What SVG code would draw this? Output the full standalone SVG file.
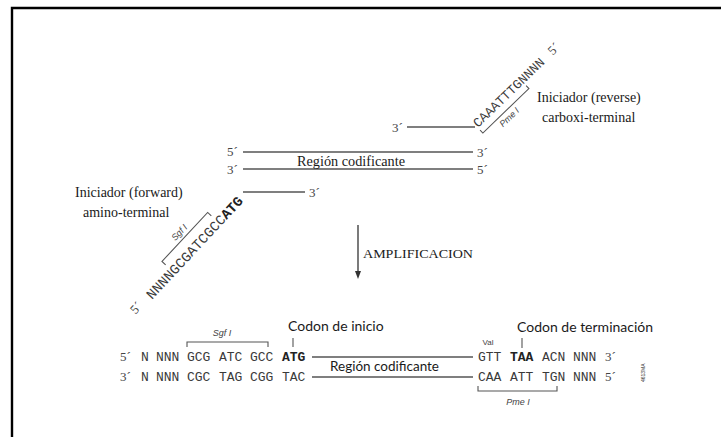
<svg xmlns="http://www.w3.org/2000/svg" width="721" height="437" viewBox="0 0 721 437">
  <style>
    .frame { fill: none; stroke: #000; stroke-width: 2.4; }
    .strand { stroke: #555; stroke-width: 1.3; fill: none; }
    .bracket { stroke: #555; stroke-width: 1.1; fill: none; }
    .seq { font-family: "Courier New", "Nimbus Mono PS", "FreeMono", "Liberation Mono", monospace; font-size: 13px; fill: #3a3a3a; }
    .seqd { font-family: "Courier New", "Nimbus Mono PS", "FreeMono", "Liberation Mono", monospace; font-size: 13px; fill: #222; font-weight: bold; }
    .end { font-family: "Liberation Serif", "DejaVu Serif", serif; font-size: 13px; fill: #444; }
    .label { font-family: "Liberation Serif", "DejaVu Serif", serif; font-size: 14px; fill: #1a1a1a; }
    .sans { font-family: Lato, "Liberation Sans", sans-serif; font-size: 14px; fill: #1a1a1a; }
    .site { font-family: "Liberation Sans", Arial, sans-serif; font-size: 9px; font-style: italic; fill: #444; }
  </style>

  <rect width="721" height="437" fill="#fff"/>

  <!-- outer frame: top and left edges -->
  <path class="frame" d="M12,437 L12,8 L721,8"/>

  <!-- connectors -->
  <g id="connectors">
    <!-- reverse primer tail -->
    <line class="strand" x1="407" y1="127" x2="475" y2="127"/>
    <!-- template duplex -->
    <line class="strand" x1="243" y1="152" x2="473" y2="152"/>
    <line class="strand" x1="243" y1="169" x2="473" y2="169"/>
    <!-- forward primer tail -->
    <line class="strand" x1="243" y1="192" x2="305" y2="192"/>
    <!-- amplification arrow -->
    <line x1="358" y1="225" x2="358" y2="272" stroke="#333" stroke-width="1.3"/>
    <path d="M355,271 L361,271 L358,279 Z" fill="#333"/>
    <!-- product duplex -->
    <line class="strand" x1="312" y1="357" x2="473" y2="357"/>
    <line class="strand" x1="312" y1="377" x2="473" y2="377"/>
  </g>

  <!-- reverse primer (carboxy terminal) -->
  <g id="primer-reverse">
    <text class="end" x="392" y="132">3´</text>
    <g transform="translate(478,128) rotate(-44)">
      <text class="seq" x="0" y="0">CAAATTTGNNNN</text>
      <text class="end" x="104" y="0">5´</text>
      <path class="bracket" d="M0,3 L0,7 L64,7 L64,3"/>
      <text class="site" x="30" y="17" text-anchor="middle">Pme I</text>
    </g>
    <text class="label" x="537" y="102">Iniciador (reverse)</text>
    <text class="label" x="542" y="122">carboxi-terminal</text>
  </g>

  <!-- template coding region -->
  <g id="template">
    <text class="end" x="227" y="156">5´</text>
    <text class="end" x="477" y="157">3´</text>
    <text class="end" x="227" y="174">3´</text>
    <text class="end" x="477" y="174">5´</text>
    <text class="label" x="351" y="166" text-anchor="middle" textLength="108" lengthAdjust="spacingAndGlyphs">Región codificante</text>
  </g>

  <!-- forward primer (amino terminal) -->
  <g id="primer-forward">
    <text class="end" x="309" y="197">3´</text>
    <g transform="translate(152,300) rotate(-47)">
      <text class="seq" x="0" y="0" style="font-size:14px">NNNNGCGATCGCC<tspan class="seqd" style="font-size:14px">ATG</tspan></text>
      <text class="end" x="-22" y="-2">5´</text>
      <path class="bracket" d="M35,-14 L35,-19 L102,-19 L102,-14"/>
      <text class="site" x="68" y="-23" text-anchor="middle">Sgf I</text>
    </g>
    <text class="label" x="75" y="197">Iniciador (forward)</text>
    <text class="label" x="83" y="217">amino-terminal</text>
  </g>

  <!-- amplification step -->
  <g id="amplification">
    <text class="label" x="363" y="258" style="font-size:13px" textLength="110" lengthAdjust="spacingAndGlyphs">AMPLIFICACION</text>
  </g>

  <!-- amplified product: left end -->
  <g id="product-left">
    <text class="site" x="222" y="336" text-anchor="middle">Sgf I</text>
    <path class="bracket" d="M187,347 L187,342 L268,342 L268,347"/>
    <text class="sans" x="288" y="331">Codon de inicio</text>
    <line class="bracket" x1="293" y1="338" x2="293" y2="347"/>

    <text class="end" x="120" y="361">5´</text>
    <text class="seq" x="141" y="361">N</text>
    <text class="seq" x="156" y="361">NNN</text>
    <text class="seq" x="187" y="361">GCG</text>
    <text class="seq" x="219" y="361">ATC</text>
    <text class="seq" x="250" y="361">GCC</text>
    <text class="seqd" x="282" y="361">ATG</text>

    <text class="end" x="120" y="381">3´</text>
    <text class="seq" x="141" y="381">N</text>
    <text class="seq" x="156" y="381">NNN</text>
    <text class="seq" x="187" y="381">CGC</text>
    <text class="seq" x="219" y="381">TAG</text>
    <text class="seq" x="250" y="381">CGG</text>
    <text class="seq" x="282" y="381">TAC</text>
  </g>

  <!-- amplified product: coding region -->
  <g id="product-coding">
    <text class="sans" x="330" y="371" textLength="109" lengthAdjust="spacingAndGlyphs">Región codificante</text>
  </g>

  <!-- amplified product: right end -->
  <g id="product-right">
    <text class="site" x="488" y="345" text-anchor="middle" style="font-style:normal;font-size:8px">Val</text>
    <text class="sans" x="517" y="332">Codon de terminación</text>
    <line class="bracket" x1="522" y1="338" x2="522" y2="348"/>

    <text class="seq" x="478" y="361">GTT</text>
    <text class="seqd" x="510" y="361">TAA</text>
    <text class="seq" x="542" y="361">ACN</text>
    <text class="seq" x="573" y="361">NNN</text>
    <text class="end" x="605" y="361">3´</text>

    <text class="seq" x="478" y="381">CAA</text>
    <text class="seq" x="510" y="381">ATT</text>
    <text class="seq" x="542" y="381">TGN</text>
    <text class="seq" x="573" y="381">NNN</text>
    <text class="end" x="605" y="381">5´</text>

    <path class="bracket" d="M478,386 L478,391 L557,391 L557,386"/>
    <text class="site" x="518" y="405" text-anchor="middle">Pme I</text>

    <text x="645" y="382" transform="rotate(-90 645 382)" font-family="Liberation Sans, sans-serif" font-size="5" fill="#333">4613MA</text>
  </g>
</svg>
